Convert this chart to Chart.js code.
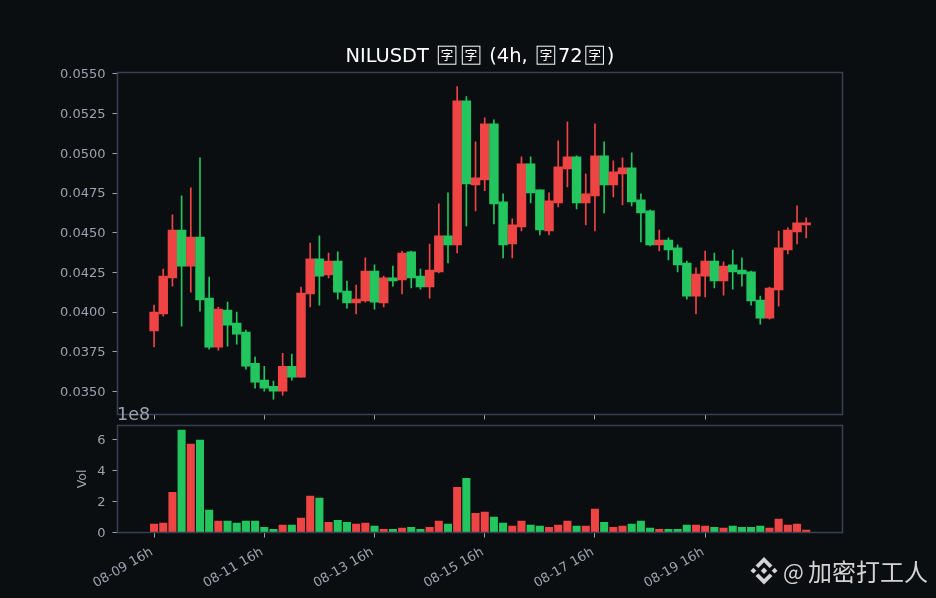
<!DOCTYPE html>
<html>
<head>
<meta charset="utf-8">
<style>
  html, body { margin: 0; padding: 0; background: #0b0e11; }
  canvas { position: absolute; left: 0; top: 0; }
</style>
<script src="https://cdn.jsdelivr.net/npm/chart.js@4"></script>
</head>
<body>
<canvas id="priceChart" width="936" height="598"></canvas>
<canvas id="volChart" width="936" height="598"></canvas>
<script>
// Values
const opens = [
  0.03882, 0.03988, 0.04215, 0.04517, 0.04290, 0.04473, 0.04088, 0.03779, 0.04013, 0.03931, 0.03874, 0.03678,
  0.03571, 0.03533, 0.03502, 0.03659, 0.03590, 0.04114, 0.04335, 0.04234, 0.04322, 0.04133, 0.04057, 0.04070,
  0.04259, 0.04057, 0.04215, 0.04202, 0.04379, 0.04227, 0.04158, 0.04253, 0.04480, 0.04423, 0.05331, 0.04801,
  0.04833, 0.05186, 0.04694, 0.04429, 0.04536, 0.04934, 0.04770, 0.04511, 0.04688, 0.04902, 0.04978, 0.04688,
  0.04732, 0.04984, 0.04801, 0.04871, 0.04909, 0.04707, 0.04637, 0.04423, 0.04454, 0.04404, 0.04309, 0.04101,
  0.04227, 0.04322, 0.04196, 0.04297, 0.04265, 0.04253, 0.04076, 0.03962, 0.04139, 0.04391, 0.04505, 0.04549
];
const closes = [
  0.04000, 0.04227, 0.04517, 0.04290, 0.04473, 0.04076, 0.03779, 0.04019, 0.03918, 0.03861, 0.03659, 0.03559,
  0.03521, 0.03502, 0.03659, 0.03590, 0.04120, 0.04335, 0.04227, 0.04322, 0.04126, 0.04057, 0.04082, 0.04259,
  0.04063, 0.04215, 0.04196, 0.04372, 0.04215, 0.04158, 0.04265, 0.04480, 0.04423, 0.05331, 0.04808, 0.04846,
  0.05186, 0.04682, 0.04423, 0.04549, 0.04934, 0.04751, 0.04517, 0.04700, 0.04915, 0.04978, 0.04688, 0.04745,
  0.04984, 0.04801, 0.04883, 0.04909, 0.04694, 0.04625, 0.04423, 0.04454, 0.04391, 0.04297, 0.04101, 0.04240,
  0.04322, 0.04196, 0.04290, 0.04253, 0.04240, 0.04070, 0.03962, 0.04152, 0.04404, 0.04517, 0.04562, 0.04562
];
const highs = [
  0.04044, 0.04271, 0.04612, 0.04732, 0.04782, 0.04972, 0.04221, 0.04032, 0.04063, 0.04000, 0.03887, 0.03716,
  0.03659, 0.03565, 0.03741, 0.03735, 0.04158, 0.04435, 0.04480, 0.04372, 0.04379, 0.04196, 0.04170, 0.04341,
  0.04297, 0.04227, 0.04290, 0.04385, 0.04385, 0.04271, 0.04429, 0.04682, 0.04751, 0.05420, 0.05357, 0.05073,
  0.05224, 0.05211, 0.04745, 0.04587, 0.04978, 0.04978, 0.04770, 0.04751, 0.05079, 0.05199, 0.04984, 0.04871,
  0.05186, 0.05073, 0.04953, 0.04972, 0.05003, 0.04745, 0.04644, 0.04517, 0.04467, 0.04423, 0.04322, 0.04278,
  0.04385, 0.04372, 0.04316, 0.04391, 0.04341, 0.04259, 0.04101, 0.04158, 0.04511, 0.04530, 0.04669, 0.04593
];
const lows = [
  0.03781, 0.03975, 0.04164, 0.03912, 0.04126, 0.04006, 0.03767, 0.03760, 0.03786, 0.03798, 0.03641, 0.03521,
  0.03502, 0.03451, 0.03476, 0.03571, 0.03590, 0.04032, 0.04044, 0.04215, 0.04082, 0.04025, 0.03988, 0.04063,
  0.04019, 0.04032, 0.04164, 0.04114, 0.04152, 0.04145, 0.04088, 0.04246, 0.04309, 0.04372, 0.04543, 0.04637,
  0.04764, 0.04555, 0.04341, 0.04341, 0.04511, 0.04688, 0.04486, 0.04486, 0.04663, 0.04789, 0.04650, 0.04549,
  0.04511, 0.04625, 0.04726, 0.04675, 0.04669, 0.04442, 0.04417, 0.04385, 0.04328, 0.04253, 0.04082, 0.03988,
  0.04095, 0.04152, 0.04107, 0.04145, 0.04164, 0.04044, 0.03924, 0.03956, 0.04038, 0.04366, 0.04429, 0.04467
];
const volumes = [
  0.54, 0.60, 2.59, 6.58, 5.68, 5.94, 1.44, 0.73, 0.73, 0.60, 0.73, 0.73,
  0.34, 0.21, 0.47, 0.47, 0.92, 2.34, 2.21, 0.66, 0.79, 0.66, 0.54, 0.60,
  0.41, 0.21, 0.21, 0.28, 0.34, 0.21, 0.34, 0.73, 0.54, 2.91, 3.49, 1.24,
  1.31, 0.99, 0.60, 0.41, 0.73, 0.47, 0.41, 0.34, 0.47, 0.73, 0.41, 0.41,
  1.50, 0.66, 0.34, 0.41, 0.54, 0.73, 0.28, 0.21, 0.21, 0.21, 0.47, 0.47,
  0.41, 0.34, 0.28, 0.41, 0.34, 0.34, 0.41, 0.28, 0.86, 0.47, 0.54, 0.15
];
const xTickIndexes = [0, 12, 24, 36, 48, 60];
const xTickLabels = ['08-09 16h', '08-11 16h', '08-13 16h', '08-15 16h', '08-17 16h', '08-19 16h'];
const priceTicks = [0.035, 0.0375, 0.04, 0.0425, 0.045, 0.0475, 0.05, 0.0525, 0.055];
const volTicks = [0, 2, 4, 6];
// null means a missing-glyph box in the title
const titleParts = ['NILUSDT ', null, null, ' (4h, ', null, '72', null, ')'];
const watermarkAt = '@';
const watermarkName = '加密打工人';

const UP = '#ef4444';
const DOWN = '#22c55e';
const FRAME = '#374151';
const TEXT = '#9ca3af';
const FONT = '"DejaVu Sans"';

const barColors = opens.map((o, i) => closes[i] >= o ? UP : DOWN);
const sameTicks = list => scale => { scale.ticks = list.map(v => ({ value: v })); };

function xAxis(showLabels) {
  return {
    type: 'linear',
    min: -3.98,
    max: 74.95,
    offset: false,
    afterBuildTicks: sameTicks(xTickIndexes),
    grid: { display: true, offset: false, drawOnChartArea: false, drawTicks: true, tickLength: 5, tickColor: TEXT, tickWidth: 1 },
    border: { display: false },
    ticks: {
      display: showLabels,
      autoSkip: false,
      minRotation: 30,
      maxRotation: 30,
      padding: 7,
      labelOffset: -2,
      color: TEXT,
      font: { family: FONT, size: 13 },
      callback: v => xTickLabels[xTickIndexes.indexOf(v)]
    }
  };
}

function yAxis(min, max, list, format, width) {
  return {
    min: min,
    max: max,
    afterBuildTicks: sameTicks(list),
    afterFit: scale => { scale.width = width; },
    grid: { display: true, drawOnChartArea: false, drawTicks: true, tickLength: 5, tickColor: TEXT, tickWidth: 1 },
    border: { display: false },
    ticks: { color: TEXT, padding: 7, labelOffset: 1, font: { family: FONT, size: 13 }, callback: format }
  };
}

// Frame around the plot area
const framePlugin = {
  id: 'frame',
  afterDraw(chart) {
    const a = chart.chartArea;
    const ctx = chart.ctx;
    ctx.save();
    ctx.strokeStyle = FRAME;
    ctx.lineWidth = 1.5;
    ctx.strokeRect(a.left, a.top, a.width, a.height);
    ctx.restore();
  }
};

// Title with the boxes the original font could not show
const titlePlugin = {
  id: 'boxTitle',
  afterDraw(chart) {
    const ctx = chart.ctx;
    const boxStep = 24;
    ctx.save();
    ctx.font = '19.44px ' + FONT;
    ctx.fillStyle = '#ffffff';
    ctx.strokeStyle = '#ffffff';
    ctx.textBaseline = 'alphabetic';
    let total = 0;
    titleParts.forEach(p => { total += p === null ? boxStep : ctx.measureText(p).width; });
    let x = 479.8 - total / 2;
    titleParts.forEach(p => {
      if (p === null) {
        ctx.lineWidth = 1;
        ctx.strokeRect(x + 3.2, 46.2, 17.6, 18);
        ctx.font = '12.5px "Noto Sans CJK SC"';
        ctx.textAlign = 'center';
        ctx.fillText('字', x + 12, 60);
        ctx.textAlign = 'left';
        ctx.font = '19.44px ' + FONT;
        x += boxStep;
      } else {
        ctx.fillText(p, x, 61.7);
        x += ctx.measureText(p).width;
      }
    });
    ctx.restore();
  }
};

function diamond(ctx, x, y, r) {
  ctx.beginPath();
  ctx.moveTo(x, y - r);
  ctx.lineTo(x + r, y);
  ctx.lineTo(x, y + r);
  ctx.lineTo(x - r, y);
  ctx.closePath();
  ctx.fill();
}

function chevron(ctx, x, y, dir) {
  ctx.beginPath();
  ctx.moveTo(x, y + dir * 13.7);
  ctx.lineTo(x + 8.5, y + dir * 5.2);
  ctx.lineTo(x + 5.6, y + dir * 2.8);
  ctx.lineTo(x, y + dir * 8.4);
  ctx.lineTo(x - 5.6, y + dir * 2.8);
  ctx.lineTo(x - 8.5, y + dir * 5.2);
  ctx.closePath();
  ctx.fill();
}

const watermarkPlugin = {
  id: 'watermark',
  afterDraw(chart) {
    const ctx = chart.ctx;
    ctx.save();
    ctx.fillStyle = '#d4d4d4';
    const cx = 764, cy = 570.7;
    diamond(ctx, cx, cy, 3.2);
    diamond(ctx, cx - 10.6, cy, 2.9);
    diamond(ctx, cx + 10.6, cy, 2.9);
    chevron(ctx, cx, cy, -1);
    chevron(ctx, cx, cy, 1);
    ctx.textBaseline = 'alphabetic';
    ctx.font = '22px "Noto Sans CJK SC"';
    ctx.fillText(watermarkAt, 783, 580);
    ctx.font = '24px "Noto Sans CJK SC"';
    ctx.fillText(watermarkName, 808, 581);
    // offset text of the volume axis, sits over the axis gap
    ctx.fillStyle = TEXT;
    ctx.font = '17.5px ' + FONT;
    ctx.fillText('1e8', 117, 420);
    ctx.restore();
  }
};

new Chart(document.getElementById('priceChart').getContext('2d'), {
  type: 'bar',
  data: {
    datasets: [
      {
        data: opens.map((o, i) => ({ x: i, y: [o, closes[i]] })),
        backgroundColor: barColors,
        barThickness: 8.8,
        grouped: false
      },
      {
        data: highs.map((h, i) => ({ x: i, y: [lows[i], h] })),
        backgroundColor: barColors,
        barThickness: 1,
        grouped: false
      }
    ]
  },
  options: {
    responsive: false,
    animation: false,
    devicePixelRatio: 1,
    layout: { padding: { left: 0, right: 93.5, top: 72.5, bottom: 177.5 } },
    plugins: { legend: { display: false }, tooltip: { enabled: false } },
    scales: {
      x: Object.assign(xAxis(false), { afterFit: scale => { scale.height = 6; } }),
      y: yAxis(0.03355, 0.05509, priceTicks, v => v.toFixed(4), 117.5)
    }
  },
  plugins: [framePlugin, titlePlugin]
});

new Chart(document.getElementById('volChart').getContext('2d'), {
  type: 'bar',
  data: {
    datasets: [{
      data: volumes.map((v, i) => ({ x: i, y: v })),
      backgroundColor: barColors,
      barThickness: 7.4
    }]
  },
  options: {
    responsive: false,
    animation: false,
    devicePixelRatio: 1,
    layout: { padding: { left: 75, right: 93.5, top: 425.5, bottom: 0 } },
    plugins: { legend: { display: false }, tooltip: { enabled: false } },
    scales: {
      x: Object.assign(xAxis(true), { afterFit: scale => { scale.height = 65.5; } }),
      y: Object.assign(yAxis(0, 6.88, volTicks, v => String(v), 42.5), {
        title: { display: true, text: 'Vol', color: TEXT, padding: 0, font: { family: FONT, size: 12.5 } }
      })
    }
  },
  plugins: [framePlugin, watermarkPlugin]
});
</script>
</body>
</html>
